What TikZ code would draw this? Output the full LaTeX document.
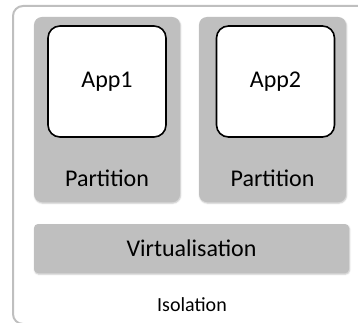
\documentclass[tikz,border=0pt]{standalone}
\usepackage{fontspec}
\setmainfont{Carlito}
\usetikzlibrary{calc,shadows.blur}
\usetikzlibrary{positioning}

\tikzset{
	partbox/.style={draw=none, fill=gray!50, rounded corners=8pt, inner sep=0pt,
		blur shadow={shadow xshift=0.6pt, shadow yshift=-1.2pt, shadow blur radius=1.5pt, shadow opacity=25}},
	appbox/.style={draw=black, line width=1.6pt, fill=white, rounded corners=12pt,
		minimum width=118pt, minimum height=111pt, inner sep=0pt, font=\fontsize{24}{28}\selectfont},
	lbl/.style={font=\fontsize{24}{28}\selectfont, inner sep=0pt},
}

\begin{document}
\begin{tikzpicture}[x=1pt,y=-1pt]
	\useasboundingbox (0,0) rectangle (358,323);
	\clip (0,0) rectangle (358,323);

		% outer frame
		\draw[gray!50, line width=2pt, rounded corners=10pt] (13,6) rectangle (372,324);

		% partitions
		\node[partbox, minimum width=146pt, minimum height=185pt] (part1) at (107,109.5) {};
		\node[partbox, minimum width=147pt, minimum height=185pt] (part2) at (272.5,109.5) {};
		\node[appbox] (app1) at (107,81.5) {App1};
		\node[appbox] (app2) at (275.5,81.5) {App2};
		\node[lbl] (part1lbl) at (107,178) {Partition};
		\node[lbl] (part2lbl) at (272.5,178) {Partition};

		% virtualisation layer
		\node[partbox, rounded corners=4pt, minimum width=315pt, minimum height=49pt, lbl] (virt) at (191.5,248.5) {Virtualisation};

		\node[font=\fontsize{20}{24}\selectfont, inner sep=0pt] (iso) at (192,305) {Isolation};
	\end{tikzpicture}
\end{document}
